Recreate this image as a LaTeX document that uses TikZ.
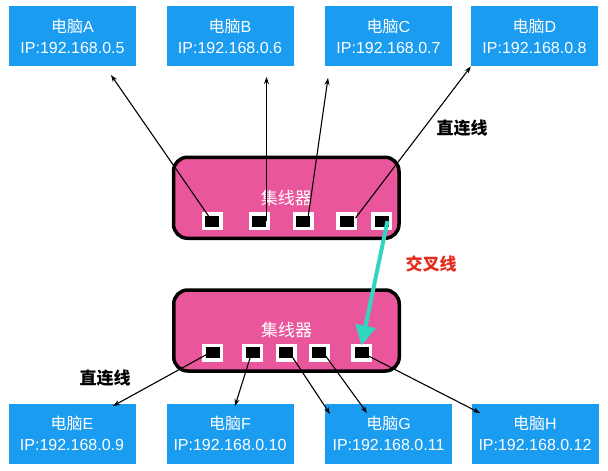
\documentclass[tikz,border=0pt]{standalone}
\usepackage{fontspec}
\setmainfont{Liberation Sans}
\newfontfamily\cjk{Noto Sans CJK SC}
\usetikzlibrary{arrows.meta,calc}
\definecolor{pcblue}{HTML}{1A9CF0}
\definecolor{hubpink}{HTML}{EA569B}
\definecolor{teal2}{HTML}{30D6BF}
\definecolor{redtxt}{HTML}{E52A1C}
\tikzset{
  pc/.style={fill=pcblue, draw=none, text=white, align=center, minimum width=127pt,
    minimum height=60pt, inner sep=0pt, font=\fontsize{16}{21}\selectfont},
  hub/.style={fill=hubpink, draw=black, line width=3.5pt, rounded corners=14pt,
    minimum width=225.5pt, minimum height=81pt, inner sep=0pt, text=white,
    font=\cjk\fontsize{17}{19}\selectfont},
  port/.style={fill=black, draw=white, line width=3.5pt, minimum width=17.5pt,
    minimum height=14.5pt, inner sep=0pt},
  wire/.style={draw=black, line width=1.1pt, -{Stealth[length=7pt,width=5pt]}},
  cross/.style={draw=teal2, line width=4pt, -{Triangle[length=20pt,width=20pt]}},
  lbl/.style={font=\cjk\bfseries\fontsize{17}{19}\selectfont, inner sep=0pt}
}
\begin{document}
\begin{tikzpicture}[x=1pt,y=-1pt]
\useasboundingbox[fill=white] (0,0) rectangle (608,471);
% computers
\node[pc] (A) at (72.5,36.3) {{\cjk 电脑}A\\IP:192.168.0.5};
\node[pc] (B) at (230,36.3) {{\cjk 电脑}B\\IP:192.168.0.6};
\node[pc] (C) at (388.5,36.3) {{\cjk 电脑}C\\IP:192.168.0.7};
\node[pc] (D) at (534.5,36.3) {{\cjk 电脑}D\\IP:192.168.0.8};
\node[pc] (E) at (72,433.5) {{\cjk 电脑}E\\IP:192.168.0.9};
\node[pc] (F) at (230,433.5) {{\cjk 电脑}F\\IP:192.168.0.10};
\node[pc] (G) at (388.5,433.5) {{\cjk 电脑}G\\IP:192.168.0.11};
\node[pc] (H) at (535,433.5) {{\cjk 电脑}H\\IP:192.168.0.12};
% hubs
\node[hub] (hubT) at (286.25,197.75) {集线器};
\node[hub] (hubB) at (286.5,330.5) {集线器};
% ports
\node[port] (p1) at (212,221) {};
\node[port] (p2) at (259,221) {};
\node[port] (p3) at (303,221) {};
\node[port] (p4) at (346.5,221) {};
\node[port] (p5) at (381.5,221) {};
\node[port] (q1) at (212.5,352.5) {};
\node[port] (q2) at (252.5,352.5) {};
\node[port] (q3) at (286,352.5) {};
\node[port] (q4) at (319,352.5) {};
\node[port] (q5) at (361.5,352.5) {};
% arrow tips
\coordinate (tA) at (111,75);
\coordinate (tB) at (266.5,77);
\coordinate (tC) at (328,78);
\coordinate (tD) at (D.south west);
\coordinate (tE) at (113,406);
\coordinate (tF) at (235,406);
\coordinate (tG1) at (330,414);
\coordinate (tG2) at (367,413);
\coordinate (tH) at (480,413);
% straight wires
\draw[wire] (p1.center) -- (tA);
\draw[wire] ($(p2.center)+(7.5,0)$) -- (tB);
\draw[wire] ($(p3.center)+(5,-3)$) -- (tC);
\draw[wire] ($(p4.center)+(9,-3)$) -- (tD);
\draw[wire] ($(q1.center)+(-5,1.5)$) -- (tE);
\draw[wire] ($(q2.center)+(-2,4)$) -- (tF);
\draw[wire] ($(q3.center)+(5,2.5)$) -- (tG1);
\draw[wire] ($(q4.center)+(6,2.5)$) -- (tG2);
\draw[wire] ($(q5.center)+(5,2.5)$) -- (tH);
% crossover
\draw[cross] ($(p5.center)+(6,0)$) -- ($(q5.center)+(0,-7)$);
% labels
\node[lbl] (l1) at (462,128) {直连线};
\node[lbl] (l2) at (105,378) {直连线};
\node[lbl, text=redtxt] (l3) at (431,264) {交叉线};
\end{tikzpicture}
\end{document}
